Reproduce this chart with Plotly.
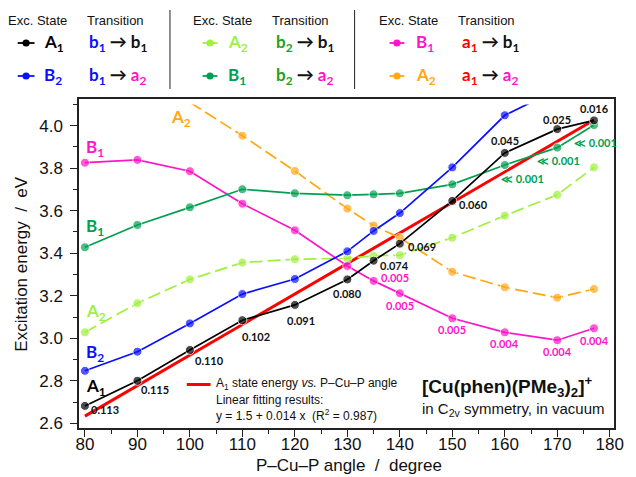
import plotly.graph_objects as go

# ---------------- data ----------------
angles = [80, 90, 100, 110, 120, 130, 135, 140, 150, 160, 170, 177]

A1_b1b1 = [2.682, 2.800, 2.945, 3.085, 3.157, 3.277, 3.365, 3.445, 3.646, 3.872, 3.984, 4.025]
A1_osc = ["0.113", "0.115", "0.110", "0.102", "0.091", "0.080", "0.074", "0.069",
          "0.060", "0.045", "0.025", "0.016"]
B2_b1a2 = [2.847, 2.937, 3.070, 3.208, 3.279, 3.409, 3.505, 3.589, 3.804, 4.049, 4.170, None]
A2_b2b1 = [3.028, 3.165, 3.277, 3.356, 3.372, 3.376, 3.388, 3.391, 3.473, 3.577, 3.675, 3.804]
B1_b2a2 = [3.428, 3.533, 3.616, 3.701, 3.682, 3.673, 3.677, 3.682, 3.724, 3.815, 3.897, 4.003]
B1_b2a2_osc = [None] * 9 + ["≪ 0.001", "≪ 0.001", "≪ 0.001"]
B1_a1b1 = [3.826, 3.839, 3.786, 3.633, 3.508, 3.340, 3.270, 3.212, 3.094, 3.028, 2.991, 3.047]
B1_a1b1_osc = [None] * 6 + ["0.005", "0.005", "0.005", "0.004", "0.004", "0.004"]
A2_a1a2 = [None, None, 4.110, 3.953, 3.787, 3.610, 3.530, 3.473, 3.313, 3.240, 3.191, 3.232]

fit_intercept = 1.485
fit_slope = 0.01436
fit_x = [80, 177]

x_ticks = [80, 90, 100, 110, 120, 130, 140, 150, 160, 170, 180]

# ---------------- styles ----------------
C_BLACK = "#000000"
C_BLUE = "#0a10ff"
C_LGREEN = "#a0f040"
C_GREEN = "#00a050"
C_MAGENTA = "#ff14c8"
C_ORANGE = "#ffa812"
C_RED = "#ff0000"
C_TGREEN = "#22a022"

XR = [78.87, 180.81]
YR = [2.578, 4.1256]
YCLIP = 4.10

W, H = 636, 477
ML, MR, MT, MB = 79, 16, 99, 49
PW, PH = W - ML - MR, H - MT - MB


def px(x):
    return (x - ML) / PW


def py(y):
    return (H - MB - y) / PH


LAB_FONT = "Lato"
TXT_FONT = "Liberation Sans, Arial"

fig = go.Figure()

# fitting line
fig.add_trace(go.Scatter(
    x=fit_x, y=[fit_intercept + fit_slope * v for v in fit_x],
    mode="lines", line=dict(color=C_RED, width=3), yaxis="y2",
    showlegend=False, hoverinfo="skip"))


def series(vals, color, dash=None):
    sizes = [0 if (v is None or v > YCLIP) else 9 for v in vals]
    fig.add_trace(go.Scatter(
        x=angles, y=vals, mode="lines+markers", yaxis="y2",
        line=dict(color=color, width=1.7, dash=dash),
        marker=dict(color=color, size=sizes),
        showlegend=False, connectgaps=False))


series(A2_a1a2, C_ORANGE, "13px,5px")
series(A2_b2b1, C_LGREEN, "13px,5px")
series(B1_a1b1, C_MAGENTA)
series(B1_b2a2, C_GREEN)
series(B2_b1a2, C_BLUE)
series(A1_b1b1, C_BLACK)

ann = []


def note(x, y, text, size, color, family=TXT_FONT, xanchor="center", angle=0):
    ann.append(dict(x=px(x), y=py(y), xref="paper", yref="paper", text=text, showarrow=False,
                    xanchor=xanchor, yanchor="middle", textangle=angle,
                    font=dict(family=family, size=size, color=color)))


# oscillator-strength labels (pixel offsets from the point)
A1_off = [(20, 4), (18, 9), (20, 11), (14, 16), (6, 16), (0, 14), (21, 5), (22, 3),
          (21, 4), (0, -12), (0, -10), (0, -12)]
for a, v, t, (dx, dy) in zip(angles, A1_b1b1, A1_osc, A1_off):
    ann.append(dict(x=a, y=v, xref="x", yref="y", text="<b>%s</b>" % t, showarrow=False,
                    xanchor="center", yanchor="middle",
                    xshift=dx, yshift=-dy, font=dict(family=LAB_FONT, size=11, color="#111")))

mag_off = {135: (21, -3), 140: (0, 12), 150: (0, 11), 160: (0, 11), 170: (0, 11), 177: (0, 12)}
for a, v, t in zip(angles, B1_a1b1, B1_a1b1_osc):
    if t:
        dx, dy = mag_off[a]
        ann.append(dict(x=a, y=v, xref="x", yref="y", text="<b>%s</b>" % t, showarrow=False,
                        xanchor="center", yanchor="middle",
                        xshift=dx, yshift=-dy, font=dict(family=LAB_FONT, size=11, color=C_MAGENTA)))

grn_off = {160: (18, 13), 170: (1, 13), 177: (1, 17)}
for a, v, t in zip(angles, B1_b2a2, B1_b2a2_osc):
    if t:
        dx, dy = grn_off[a]
        ann.append(dict(x=a, y=v, xref="x", yref="y", text="<b>%s</b>" % t, showarrow=False,
                        xanchor="center", yanchor="middle",
                        xshift=dx, yshift=-dy, font=dict(family=LAB_FONT, size=11, color=C_GREEN)))

# series labels inside plot
ser_labels = [
    ("A<sub>2</sub>", C_ORANGE, 170, 118),
    ("B<sub>1</sub>", C_MAGENTA, 84, 148),
    ("B<sub>1</sub>", C_GREEN, 84, 227),
    ("A<sub>2</sub>", C_LGREEN, 84, 312),
    ("B<sub>2</sub>", C_BLUE, 84, 353),
    ("A<sub>1</sub>", C_BLACK, 84, 387),
]
for t, c, x0, y0 in ser_labels:
    note(x0, y0, "<b>%s</b>" % t, 17, c, LAB_FONT, "left")

# fit legend
shapes = [dict(type="line", xref="paper", yref="paper", x0=px(188), x1=px(212),
               y0=py(384.5), y1=py(384.5), line=dict(color=C_RED, width=3))]
fit_lines = [
    ("A<sub>1</sub> state energy <i>vs.</i> P–Cu–P angle", 384),
    ("Linear fitting results:", 399.5),
    ("y = 1.5 + 0.014 x  (R<sup>2</sup> = 0.987)", 415),
]
for t, y0 in fit_lines:
    note(216, y0, t, 12, "#111", TXT_FONT, "left")

note(424, 386, "<b>[Cu(phen)(PMe<sub>3</sub>)<sub>2</sub>]<sup>+</sup></b>", 19, "#111", TXT_FONT, "left")
note(424, 409, "in C<sub>2v</sub> symmetry, in vacuum", 15, "#111", TXT_FONT, "left")

# axis titles
note(20, 264, "Excitation energy  /  eV", 17, "#111", angle=-90)
note(352, 465, "P–Cu–P angle  /  degree", 17, "#111")

# top legend
for cx in (37.5, 224.5, 412.5):
    note(cx, 21, "Exc. State", 13, "#111")
for cx in (115.7, 303, 491):
    note(cx, 21, "Transition", 13, "#111")
for sx in (171, 357.7):
    shapes.append(dict(type="line", xref="paper", yref="paper", x0=px(sx), x1=px(sx),
                       y0=py(10), y1=py(89), line=dict(color="#222", width=1)))


def sp(t, c):
    return '<span style="color:%s">%s</span>' % (c, t)


ARROW = sp("→", "#111")
leg = [
    # (line x0, x1, label x, trans x, row y, color, label, transition)
    (17, 34, 42, 87, 43, C_BLACK, "A<sub>1</sub>", sp("b<sub>1</sub>", C_BLUE) + " " + ARROW + " " + sp("b<sub>1</sub>", "#111")),
    (17, 34, 42, 87, 76, C_BLUE, "B<sub>2</sub>", sp("b<sub>1</sub>", C_BLUE) + " " + ARROW + " " + sp("a<sub>2</sub>", C_MAGENTA)),
    (204, 219, 228, 276, 43, C_LGREEN, "A<sub>2</sub>", sp("b<sub>2</sub>", C_TGREEN) + " " + ARROW + " " + sp("b<sub>1</sub>", "#111")),
    (204, 219, 228, 276, 76, C_GREEN, "B<sub>1</sub>", sp("b<sub>2</sub>", C_TGREEN) + " " + ARROW + " " + sp("a<sub>2</sub>", C_MAGENTA)),
    (393, 408, 418, 464, 43, C_MAGENTA, "B<sub>1</sub>", sp("a<sub>1</sub>", C_RED) + " " + ARROW + " " + sp("b<sub>1</sub>", "#111")),
    (393, 408, 418, 464, 76, C_ORANGE, "A<sub>2</sub>", sp("a<sub>1</sub>", C_RED) + " " + ARROW + " " + sp("a<sub>2</sub>", C_MAGENTA)),
]
for x0, x1, lx, tx, ry, c, lab, tr in leg:
    shapes.append(dict(type="line", xref="paper", yref="paper", x0=px(x0), x1=px(x1),
                       y0=py(ry), y1=py(ry), line=dict(color=c, width=1.8)))
    shapes.append(dict(type="circle", xref="paper", yref="paper", xsizemode="pixel", ysizemode="pixel",
                       xanchor=px((x0 + x1) / 2), yanchor=py(ry), x0=-3.6, x1=3.6, y0=-3.6, y1=3.6,
                       fillcolor=c, line=dict(color=c, width=0)))
    note(lx, ry, "<b>%s</b>" % lab, 17, c, LAB_FONT, "left")
    note(tx, ry, "<b>%s</b>" % tr, 17, "#111", LAB_FONT, "left")

fig.update_layout(
    width=W, height=H, margin=dict(l=ML, r=MR, t=MT, b=MB),
    paper_bgcolor="white", plot_bgcolor="white", showlegend=False,
    xaxis=dict(range=XR, tickvals=x_ticks, ticks="outside", ticklen=7, tickwidth=1.2,
               tickcolor="#222", showline=True, linecolor="#222", linewidth=1.5, mirror=True,
               showgrid=False, zeroline=False, ticklabelstandoff=-7,
               tickfont=dict(family=TXT_FONT, size=17, color="#111"),
               minor=dict(dtick=5, tick0=80, ticks="outside", ticklen=4, tickcolor="#222", tickwidth=1.2)),
    yaxis=dict(range=YR, tick0=2.6, dtick=0.2, tickformat=".1f", ticks="outside", ticklen=7,
               tickwidth=1.2, tickcolor="#222", showline=True, linecolor="#222", linewidth=1.5,
               mirror=True, showgrid=False, zeroline=False, ticklabelstandoff=4,
               tickfont=dict(family=TXT_FONT, size=17, color="#111"),
               minor=dict(dtick=0.1, tick0=2.6, ticks="outside", ticklen=4, tickcolor="#222", tickwidth=1.2)),
    yaxis2=dict(range=[YR[0], YCLIP], domain=[0, (YCLIP - YR[0]) / (YR[1] - YR[0])],
                anchor="x", visible=False, showgrid=False, zeroline=False),
    annotations=ann, shapes=shapes,
)

fig.write_html("out.html")
